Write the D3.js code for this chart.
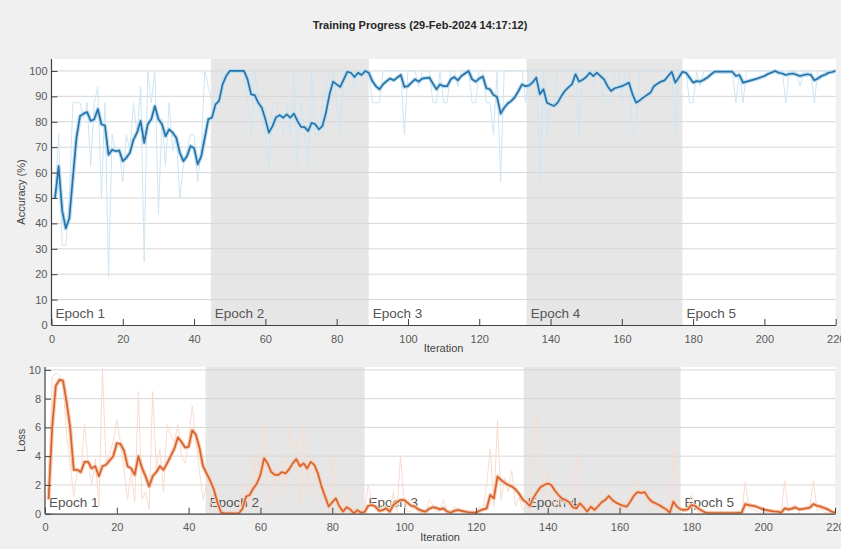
<!DOCTYPE html>
<html>
<head>
<meta charset="utf-8">
<script src="https://cdn.jsdelivr.net/npm/d3@7"></script>
<style>
  html, body { margin: 0; padding: 0; background: #f0f0f0; }
  svg { display: block; font-family: "Liberation Sans", Arial, sans-serif; }
</style>
</head>
<body>
<div id="chart"></div>
<script>
// ---- data ----
var titleText = "Training Progress (29-Feb-2024 14:17:12)";
var epochLabels = ["Epoch 1", "Epoch 2", "Epoch 3", "Epoch 4", "Epoch 5"];
var epochEdges = [0, 44.7, 89, 133.3, 177, 220];
var xTicks = [0, 20, 40, 60, 80, 100, 120, 140, 160, 180, 200, 220];
var accTicks = [0, 10, 20, 30, 40, 50, 60, 70, 80, 90, 100];
var lossTicks = [0, 2, 4, 6, 8, 10];

// iterations 1..220
var accRaw = [
  50, 75, 31.25, 31.25, 50, 87.5, 87.5, 87.5, 81.25, 87.5,
  62.5, 87.5, 93.75, 50, 87.5, 18.75, 75, 68.75, 68.75, 56.25,
  75, 68.75, 87.5, 75, 93.75, 25, 100, 87.5, 100, 43.75,
  81.25, 62.5, 87.5, 68.75, 75, 50, 62.5, 68.75, 75, 75,
  56.25, 68.75, 100, 93.75, 87.5, 87.5, 87.5, 100, 100, 100,
  100, 100, 100, 100, 87.5, 75, 100, 87.5, 81.25, 75,
  62.5, 87.5, 87.5, 81.25, 75, 87.5, 75, 100, 62.5, 87.5,
  75, 62.5, 100, 75, 75, 87.5, 93.75, 100, 100, 87.5,
  75, 100, 100, 100, 93.75, 100, 100, 100, 100, 87.5,
  87.5, 87.5, 100, 100, 100, 100, 100, 100, 75, 100,
  100, 100, 93.75, 100, 100, 100, 87.5, 87.5, 100, 87.5,
  87.5, 100, 100, 93.75, 100, 100, 100, 87.5, 87.5, 100,
  100, 87.5, 87.5, 75, 100, 56.25, 100, 100, 100, 100,
  100, 100, 87.5, 100, 100, 100, 56.25, 100, 75, 87.5,
  87.5, 100, 100, 100, 100, 100, 100, 75, 100, 100,
  100, 93.75, 100, 100, 87.5, 87.5, 87.5, 100, 100, 87.5,
  100, 100, 75, 75, 100, 100, 100, 100, 100, 100,
  100, 100, 100, 100, 75, 100, 100, 100, 87.5, 87.5,
  100, 93.75, 100, 100, 100, 100, 100, 100, 100, 100,
  100, 87.5, 100, 87.5, 100, 100, 100, 100, 100, 100,
  100, 100, 100, 100, 100, 87.5, 100, 100, 100, 93.75,
  100, 100, 100, 87.5, 100, 100, 100, 100, 100, 100
];
var accSmooth = [
  50, 62.5, 45, 38, 42, 58, 73.7, 82.2, 83.2, 83.8,
  80.3, 81, 85, 79, 78.5, 67, 69, 68.4, 68.7, 64.5,
  65.8, 67.8, 73, 75.7, 80.3, 71.7, 79, 81, 86.2, 81,
  79, 74.3, 77, 75.7, 73.7, 67.8, 64.5, 66.4, 70.4, 69.7,
  63.2, 66.4, 73.7, 81, 81.6, 86.8, 88.2, 94.7, 98, 100,
  100, 100, 100, 100, 96.7, 90.8, 90.5, 87.5, 85.5, 81,
  75.7, 78.3, 81.8, 82.6, 81.6, 82.9, 81.6, 83.2, 80.3, 78,
  77.9, 76.3, 79.6, 79, 77, 78.3, 83.6, 90.8, 95.8, 94.7,
  93.7, 96.7, 99.7, 99.3, 97.6, 99.3, 98.4, 100, 99.3, 96,
  94, 92.8, 94.7, 96, 97, 96.3, 97.4, 98.4, 93.7, 94,
  95.4, 96.7, 95.8, 97, 97.2, 97.4, 95, 92.8, 94.7, 94,
  94, 96.7, 97.6, 96.3, 98, 99, 100, 96.7, 95.8, 97,
  97.8, 93.2, 92.8, 90.5, 89.7, 83.2, 85.5, 87.2, 88.2, 89.7,
  92.1, 94.7, 94, 94.3, 95.5, 97.4, 90.8, 92.8, 87.5, 86.8,
  86.2, 87.5, 90, 92.1, 93.5, 94.7, 98.7, 95.8, 96.5, 97.6,
  99.3, 98, 99.3, 98, 96.7, 94, 92.1, 93.2, 93.6, 94,
  94.7, 95.4, 90.8, 87.5, 88.4, 89.5, 90.5, 91.4, 94, 95,
  95.8, 96.3, 98, 99.7, 95.4, 97.4, 99.7, 99.3, 97.4, 95.4,
  96, 95.8, 96.5, 97.4, 98.6, 99.7, 99.7, 99.7, 99.7, 99.7,
  99.7, 98, 98.4, 95.4, 95.8, 96.2, 96.6, 97, 97.5, 98,
  98.8, 99.4, 100, 99.3, 99, 98.4, 98.8, 99, 98.5, 98,
  98.4, 98.7, 98.5, 96.3, 97, 98, 98.5, 99.3, 99.6, 100
];
var lossRaw = [
  1.0, 9.5, 9.8, 9.6, 9.2, 5.5, 3.5, 1.2, 3.0, 2.7,
  6.2, 3.6, 2.0, 3.8, 0.5, 10.1, 3.5, 4.2, 5.0, 6.5,
  5.0, 3.0, 1.0, 3.0, 0.8, 8.5, 1.0, 1.5, 0.3, 8.5,
  3.2, 4.5, 1.5, 6.2, 5.5, 5.0, 6.2, 4.0, 3.5, 5.0,
  7.5, 5.0, 3.0, 1.0, 2.0, 1.0, 0.3, 0.1, 0.05, 0.02,
  0.02, 0.05, 0.02, 0.1, 2.0, 2.0, 0.5, 4.0, 2.0, 4.5,
  6.5, 1.0, 0.8, 3.2, 2.0, 4.0, 1.5, 6.0, 4.5, 5.0,
  0.5, 6.5, 1.5, 4.0, 3.0, 0.5, 0.2, 0.1, 0.1, 4.0,
  1.0, 0.1, 0.05, 2.0, 0.1, 0.02, 0.5, 0.02, 0.3, 2.0,
  0.8, 0.3, 0.1, 0.5, 0.5, 0.02, 1.5, 0.1, 4.0, 0.9,
  0.1, 0.2, 0.4, 0.05, 0.1, 0.05, 1.0, 0.6, 0.1, 0.2,
  1.0, 0.05, 0.02, 0.5, 0.3, 0.1, 0.05, 0.05, 0.05, 0.05,
  0.5, 0.2, 2.0, 4.5, 0.5, 6.5, 1.0, 2.5, 1.5, 3.0,
  0.5, 1.2, 0.3, 0.5, 0.2, 5.0, 6.7, 4.0, 1.0, 3.0,
  1.2, 0.5, 1.5, 0.3, 1.0, 0.5, 0.1, 4.2, 0.1, 0.1,
  0.05, 1.0, 0.1, 0.8, 1.5, 2.0, 2.0, 0.3, 0.3, 0.4,
  0.3, 0.4, 1.5, 2.3, 2.3, 1.3, 1.8, 0.3, 0.3, 0.5,
  0.3, 0.2, 0.05, 0.05, 4.5, 0.1, 0.05, 0.2, 0.4, 1.3,
  0.4, 0.05, 0.05, 0.03, 0.02, 0.05, 0.03, 0.02, 0.05, 0.03,
  0.02, 0.05, 0.03, 0.02, 2.2, 0.4, 0.3, 0.2, 0.1, 0.1,
  0.1, 0.05, 0.05, 0.05, 0.02, 2.3, 0.1, 0.5, 0.6, 0.05,
  0.4, 0.5, 0.5, 2.3, 0.2, 0.3, 0.1, 0.05, 0.02, 0.02
];
var lossSmooth = [
  1.0, 6.0, 8.9, 9.3, 9.25, 7.8, 6.0, 3.05, 3.05, 2.9,
  3.6, 3.6, 3.15, 3.3, 2.6, 3.3, 3.4, 3.7, 4.0, 4.9,
  4.85, 4.4, 3.3, 3.15, 2.7, 4.0, 3.2, 2.6, 1.9, 2.6,
  2.9, 3.3, 3.05, 3.5, 4.0, 4.5, 5.3, 5.0, 4.6, 4.65,
  5.8, 5.5, 4.6, 3.3, 2.8, 2.3, 1.7, 0.8, 0.1, 0.02,
  0.02, 0.02, 0.02, 0.03, 0.35, 1.2, 1.3, 1.75, 2.1, 2.7,
  3.85, 3.5, 2.9, 2.7, 2.7, 2.9, 2.8, 3.1, 3.5, 3.8,
  3.3, 3.5, 3.15, 3.6, 3.4, 2.8, 1.9, 1.2, 0.5, 0.8,
  1.07, 0.5, 0.15, 0.45, 0.3, 0.03, 0.25, 0.07, 0.12, 0.55,
  0.6, 0.5, 0.2, 0.25, 0.37, 0.14, 0.6, 0.8, 0.95, 0.95,
  0.75, 0.55, 0.49, 0.3, 0.2, 0.14, 0.35, 0.45, 0.4, 0.3,
  0.37, 0.15, 0.07, 0.2, 0.26, 0.2, 0.14, 0.1, 0.08, 0.07,
  0.2, 0.3, 0.37, 1.3, 1.07, 2.58, 2.35, 2.15, 2.0, 1.9,
  1.7, 1.4, 1.0, 0.8, 0.55, 1.1, 1.5, 1.85, 2.0, 2.1,
  2.0, 1.6, 1.3, 1.05, 0.95, 0.8, 0.45, 0.37, 0.72, 0.45,
  0.15, 0.49, 0.26, 0.5, 0.8, 0.95, 1.23, 0.95, 0.77, 0.65,
  0.55, 0.49, 0.84, 1.25, 1.5, 1.45, 1.5, 1.1, 0.84, 0.72,
  0.6, 0.45, 0.3, 0.07, 0.84, 0.49, 0.3, 0.26, 0.3, 0.6,
  0.55, 0.35, 0.2, 0.07, 0.05, 0.05, 0.05, 0.05, 0.05, 0.05,
  0.05, 0.05, 0.06, 0.07, 0.67, 0.6, 0.56, 0.5, 0.4, 0.3,
  0.25, 0.2, 0.16, 0.14, 0.07, 0.37, 0.3, 0.35, 0.44, 0.3,
  0.33, 0.37, 0.42, 0.67, 0.55, 0.49, 0.4, 0.3, 0.15, 0.07
];

// ---- layout ----
var W = 841, H = 549;

var svg = d3.select("#chart").append("svg")
  .attr("width", W)
  .attr("height", H);

svg.append("rect").attr("width", W).attr("height", H).attr("fill", "#f0f0f0");

svg.append("text")
  .attr("x", 420).attr("y", 29)
  .attr("text-anchor", "middle")
  .attr("font-size", 11)
  .attr("font-weight", "bold")
  .attr("fill", "#262626")
  .text(titleText);

function drawPanel(cfg) {
  var x = d3.scaleLinear().domain([0, 220]).range([cfg.left, cfg.right]);
  var y = d3.scaleLinear().domain(cfg.yDomain).range([cfg.bottom, cfg.top]);

  var g = svg.append("g");

  // plot background
  g.append("rect")
    .attr("x", cfg.left).attr("y", cfg.top)
    .attr("width", cfg.right - cfg.left).attr("height", cfg.bottom - cfg.top)
    .attr("fill", "#ffffff");

  // shaded epochs (2 and 4)
  g.selectAll(".shade")
    .data(d3.range(5).filter(function (i) { return i % 2 === 1; }))
    .enter().append("rect")
    .attr("x", function (i) { return x(epochEdges[i]); })
    .attr("y", cfg.top)
    .attr("width", function (i) { return x(epochEdges[i + 1]) - x(epochEdges[i]); })
    .attr("height", cfg.bottom - cfg.top)
    .attr("fill", "#e6e6e6");

  // horizontal grid
  g.selectAll(".grid")
    .data(cfg.ticks.filter(function (t) { return t > 0; }))
    .enter().append("line")
    .attr("x1", cfg.left).attr("x2", cfg.right)
    .attr("y1", function (d) { return y(d); })
    .attr("y2", function (d) { return y(d); })
    .attr("stroke", "#d6d6d6")
    .attr("stroke-width", 1);

  // epoch labels
  g.selectAll(".epoch")
    .data(epochLabels)
    .enter().append("text")
    .attr("x", function (d, i) { return x(epochEdges[i]) + 4; })
    .attr("y", cfg.bottom - 7)
    .attr("font-size", 13.5)
    .attr("fill", "#555555")
    .text(function (d) { return d; });

  // series
  var clipId = "clip-" + cfg.name;
  svg.append("clipPath").attr("id", clipId)
    .append("rect")
    .attr("x", cfg.left).attr("y", cfg.top)
    .attr("width", cfg.right - cfg.left).attr("height", cfg.bottom - cfg.top);

  var line = d3.line()
    .x(function (d, i) { return x(i + 1); })
    .y(function (d) { return y(d); });

  var lines = g.append("g").attr("clip-path", "url(#" + clipId + ")");

  lines.append("path")
    .datum(cfg.raw)
    .attr("d", line)
    .attr("fill", "none")
    .attr("stroke", cfg.rawColor)
    .attr("stroke-width", 1);

  lines.append("path")
    .datum(cfg.smooth)
    .attr("d", line)
    .attr("fill", "none")
    .attr("stroke", cfg.haloColor)
    .attr("stroke-width", 4)
    .attr("stroke-linejoin", "round");

  lines.append("path")
    .datum(cfg.smooth)
    .attr("d", line)
    .attr("fill", "none")
    .attr("stroke", cfg.color)
    .attr("stroke-width", 1.7)
    .attr("stroke-linejoin", "round");

  // axes (inward ticks, MATLAB style)
  var xAxis = g.append("g")
    .attr("transform", "translate(0," + cfg.bottom + ")")
    .call(d3.axisBottom(x).tickValues(xTicks).tickSizeInner(-6).tickSizeOuter(0).tickPadding(10));

  var yAxis = g.append("g")
    .attr("transform", "translate(" + cfg.left + ",0)")
    .call(d3.axisLeft(y).tickValues(cfg.ticks).tickSizeInner(-6).tickSizeOuter(0).tickPadding(4));

  [xAxis, yAxis].forEach(function (a) {
    a.select(".domain").attr("stroke", "#404040").attr("stroke-width", 1.2);
    a.selectAll(".tick line").attr("stroke", "#404040");
    a.selectAll(".tick text")
      .attr("fill", "#595959")
      .attr("font-size", 11)
      .attr("font-family", "Liberation Sans, Arial, sans-serif");
  });
  yAxis.select(".domain").attr("d", "M0," + cfg.bottom + "V" + cfg.top);

  // axis labels
  g.append("text")
    .attr("x", (cfg.left + cfg.right) / 2)
    .attr("y", cfg.bottom + 27)
    .attr("text-anchor", "middle")
    .attr("font-size", 11)
    .attr("fill", "#444444")
    .text("Iteration");

  g.append("text")
    .attr("transform", "translate(" + 25 + "," + ((cfg.top + cfg.bottom) / 2) + ") rotate(-90)")
    .attr("text-anchor", "middle")
    .attr("font-size", 11)
    .attr("fill", "#444444")
    .text(cfg.yLabel);
}

drawPanel({
  name: "acc",
  left: 51.5, right: 835.7, top: 59, bottom: 325,
  yDomain: [0, 104.7],
  ticks: accTicks,
  raw: accRaw, smooth: accSmooth,
  rawColor: "#cfe5f3", haloColor: "#b7dcf2", color: "#2a72a6",
  yLabel: "Accuracy (%)"
});

drawPanel({
  name: "loss",
  left: 45, right: 835, top: 367, bottom: 513.7,
  yDomain: [0, 10.2],
  ticks: lossTicks,
  raw: lossRaw, smooth: lossSmooth,
  rawColor: "#f8dccf", haloColor: "#f7c9b0", color: "#d5642f",
  yLabel: "Loss"
});
</script>
</body>
</html>
